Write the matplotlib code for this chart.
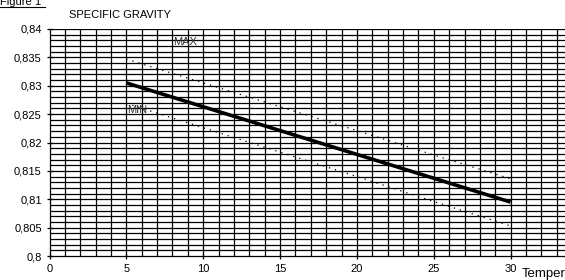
import matplotlib.pyplot as plt
from matplotlib.lines import Line2D
import numpy as np

plt.rcParams['font.family'] = ['Liberation Sans', 'DejaVu Sans']

# temperature points and specific gravity values
temp = [5, 10, 15, 20, 25, 30]
sg_mean = [0.8305, 0.8263, 0.8221, 0.8179, 0.8137, 0.8095]
sg_max = [0.8347, 0.8305, 0.8263, 0.8221, 0.8178, 0.8136]
sg_min = [0.8269, 0.8226, 0.8183, 0.8140, 0.8096, 0.8053]

y_ticks = [0.8, 0.805, 0.81, 0.815, 0.82, 0.825, 0.83, 0.835, 0.84]
y_labels = ['0,8', '0,805', '0,81', '0,815', '0,82', '0,825', '0,83', '0,835', '0,84']
x_ticks = [0, 5, 10, 15, 20, 25, 30]

fig = plt.figure(figsize=(5.65, 2.8), dpi=100)
# plot area runs past the right edge (the original image is cropped there)
ax = fig.add_axes([49.5 / 565, 24 / 280, 538 / 565, 227 / 280])

ax.set_xlim(0, 35)
ax.set_ylim(0.8, 0.84)

# dense grid: every 1 degree and every 0.001
for gx in range(1, 36):
    ax.axvline(gx, color='black', lw=0.9, zorder=1)
for gy in np.arange(0.801, 0.8405, 0.001):
    ax.axhline(gy, color='black', lw=0.9, zorder=1)

ax.plot(temp, sg_max, color='black', lw=0.9, ls=(0, (1, 4)), zorder=3)
ax.plot(temp, sg_min, color='black', lw=0.9, ls=(0, (1, 4)), zorder=3)
ax.plot(temp, sg_mean, color='black', lw=2.6, solid_capstyle='butt', zorder=4)

ax.text(8.8, 0.8377, 'MAX', fontsize=8, color='#333333', ha='center', va='center', zorder=5)
ax.text(5.7, 0.8257, 'MIN', fontsize=8, color='#333333', ha='center', va='center', zorder=5)

ax.set_xticks(x_ticks)
ax.set_xticklabels([str(t) for t in x_ticks])
ax.set_yticks(y_ticks)
ax.set_yticklabels(y_labels)
ax.tick_params(axis='both', direction='inout', length=5, width=0.9, labelsize=8, pad=3)

for s in ['top', 'right']:
    ax.spines[s].set_visible(False)
ax.spines['left'].set_linewidth(0.9)
ax.spines['bottom'].set_linewidth(0.9)

fig.text(120 / 565, 1 - 15 / 280, 'SPECIFIC GRAVITY', fontsize=8, ha='center', va='center')
fig.text(522 / 565, 1 - 274 / 280, 'Temperature', fontsize=9.5, ha='left', va='center')

fig.text(0.0, 1 - 5 / 280, 'Figure 1', fontsize=8, ha='left', va='baseline')
fig.add_artist(Line2D([0, 45 / 565], [1 - 7 / 280, 1 - 7 / 280], color='black', lw=0.8,
                      transform=fig.transFigure))

fig.savefig('out.png', dpi=100)
